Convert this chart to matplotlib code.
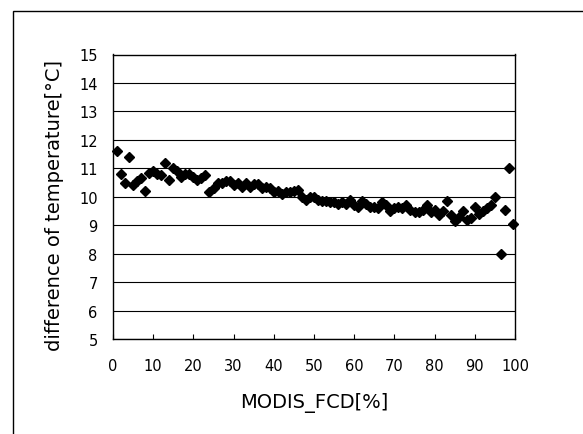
import matplotlib
matplotlib.use("Agg")
import matplotlib.pyplot as plt
from matplotlib.patches import Rectangle

# values
fcd = [1, 2, 3, 4, 5, 6, 7, 8, 9, 10,
       11, 12, 13, 14, 15, 16, 17, 18, 19, 20,
       21, 22, 23, 24, 25, 26, 27, 28, 29, 30,
       31, 32, 33, 34, 35, 36, 37, 38, 39, 40,
       41, 42, 43, 44, 45, 46, 47, 48, 49, 50,
       51, 52, 53, 54, 55, 56, 57, 58, 59, 60,
       61, 62, 63, 64, 65, 66, 67, 68, 69, 70,
       71, 72, 73, 74, 75, 76, 77, 78, 79, 80,
       81, 82, 83, 84, 85, 86, 87, 88, 89, 90,
       91, 92, 93, 94, 95, 96.4, 97.4, 98.4, 99.6]
temp_diff = [11.6, 10.8, 10.5, 11.4, 10.4, 10.55, 10.65, 10.2, 10.85, 10.9,
             10.8, 10.75, 11.2, 10.6, 11.0, 10.9, 10.7, 10.8, 10.8, 10.7,
             10.6, 10.65, 10.75, 10.15, 10.3, 10.5, 10.5, 10.55, 10.55, 10.4,
             10.5, 10.35, 10.5, 10.35, 10.45, 10.45, 10.3, 10.35, 10.3, 10.15,
             10.2, 10.1, 10.15, 10.15, 10.2, 10.25, 10.0, 9.9, 10.0, 10.0,
             9.9, 9.85, 9.85, 9.8, 9.8, 9.75, 9.8, 9.75, 9.9, 9.7,
             9.65, 9.85, 9.75, 9.65, 9.65, 9.6, 9.8, 9.7, 9.5, 9.6,
             9.65, 9.6, 9.7, 9.55, 9.45, 9.45, 9.55, 9.7, 9.45, 9.55,
             9.35, 9.5, 9.85, 9.35, 9.15, 9.3, 9.5, 9.2, 9.25, 9.65,
             9.4, 9.5, 9.6, 9.7, 10.0, 8.0, 9.55, 11.0, 9.05]

x_ticks = [0, 10, 20, 30, 40, 50, 60, 70, 80, 90, 100]
y_ticks = [5, 6, 7, 8, 9, 10, 11, 12, 13, 14, 15]

plt.rcParams['font.family'] = ['DejaVu Sans']

fig = plt.figure(figsize=(5.83, 4.35), dpi=100)
# outer chart frame (right and bottom edges fall outside the picture)
fig.patches.append(Rectangle((13 / 583, -0.1), 1.2, 1.1 - 12 / 435,
                             transform=fig.transFigure, fill=False,
                             edgecolor='black', linewidth=1.0))

ax = fig.add_axes([113 / 583, 1 - 340 / 435, 402 / 583, 284.5 / 435])
ax.plot(fcd, temp_diff, linestyle='none', marker='D', markersize=5.6,
        color='black', clip_on=False, zorder=3)

ax.set_xlim(0, 100)
ax.set_ylim(5, 15)
ax.set_xticks(x_ticks)
ax.set_yticks(y_ticks)
ax.tick_params(axis='x', direction='in', length=3.5, width=0.8, pad=14,
               labelsize=10.5)
ax.tick_params(axis='y', length=0, pad=11, labelsize=10.5)
ax.yaxis.grid(True, color='black', linewidth=0.8)
ax.set_axisbelow(True)
for s in ax.spines.values():
    s.set_linewidth(1.0)

ax.set_xlabel('MODIS_FCD[%]', fontsize=14, va='baseline')
ax.xaxis.set_label_coords(0.5, -0.240)
ax.set_ylabel('difference of temperature[°C]', fontsize=14)
ax.yaxis.set_label_coords(-0.123, 0.474)

fig.savefig('out.png', dpi=100)
